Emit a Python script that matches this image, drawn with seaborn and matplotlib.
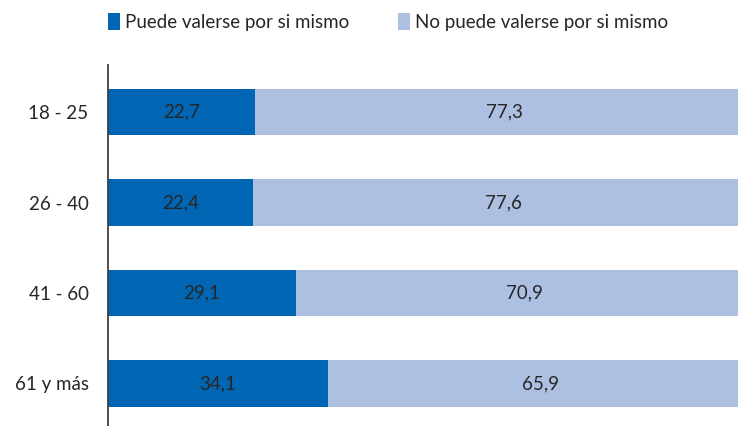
import matplotlib
matplotlib.use("Agg")
import matplotlib.pyplot as plt
import pandas as pd
import seaborn as sns
from matplotlib.patches import Patch

# data
age_groups = ["18 - 25", "26 - 40", "41 - 60", "61 y más"]
puede = [22.7, 22.4, 29.1, 34.1]
no_puede = [77.3, 77.6, 70.9, 65.9]
series_names = ["Puede valerse por si mismo", "No puede valerse por si mismo"]

DARK = "#0066B3"
LIGHT = "#AEC0E1"
TEXT = "#262626"
FONT = "Lato"
FS = 13.5

sns.set_style("white")
plt.rcParams["font.family"] = [FONT, "DejaVu Sans"]

df = pd.DataFrame({"grupo": age_groups, "puede": puede, "no_puede": no_puede})
df["total"] = df["puede"] + df["no_puede"]

fig = plt.figure(figsize=(7.38, 4.26), dpi=100)
ax = fig.add_axes([108 / 738, 0, 1 - 108 / 738, (426 - 65) / 426])

# stacked: full bar in light, first segment in dark on top
sns.barplot(data=df, y="grupo", x="total", color=LIGHT, orient="h",
            width=0.51, ax=ax, saturation=1, linewidth=0)
sns.barplot(data=df, y="grupo", x="puede", color=DARK, orient="h",
            width=0.51, ax=ax, saturation=1, linewidth=0)

for i, row in df.iterrows():
    ax.text(row["puede"] / 2, i, f"{row['puede']:.1f}".replace(".", ","),
            ha="center", va="center", fontsize=FS, color=TEXT)
    ax.text(row["puede"] + row["no_puede"] / 2, i,
            f"{row['no_puede']:.1f}".replace(".", ","),
            ha="center", va="center", fontsize=FS, color=TEXT)

ax.set_xlim(0, 97.6)
ax.set_ylim(3.47, -0.52)
ax.set_xlabel("")
ax.set_ylabel("")
ax.set_xticks([])
ax.tick_params(axis="y", length=0, pad=14, labelsize=FS, labelcolor=TEXT)
for side in ["top", "right", "bottom"]:
    ax.spines[side].set_visible(False)
ax.spines["left"].set_color("#404040")
ax.spines["left"].set_linewidth(1.3)

handles = [Patch(facecolor=DARK, edgecolor="none"),
           Patch(facecolor=LIGHT, edgecolor="none")]
fig.legend(handles, series_names, loc="center", bbox_to_anchor=(388 / 738, 1 - 22 / 426),
           ncol=2, frameon=False, fontsize=FS, handlelength=0.65, handleheight=1.0,
           handletextpad=0.25, columnspacing=2.6, labelcolor=TEXT)

fig.savefig("out.png", dpi=100)
